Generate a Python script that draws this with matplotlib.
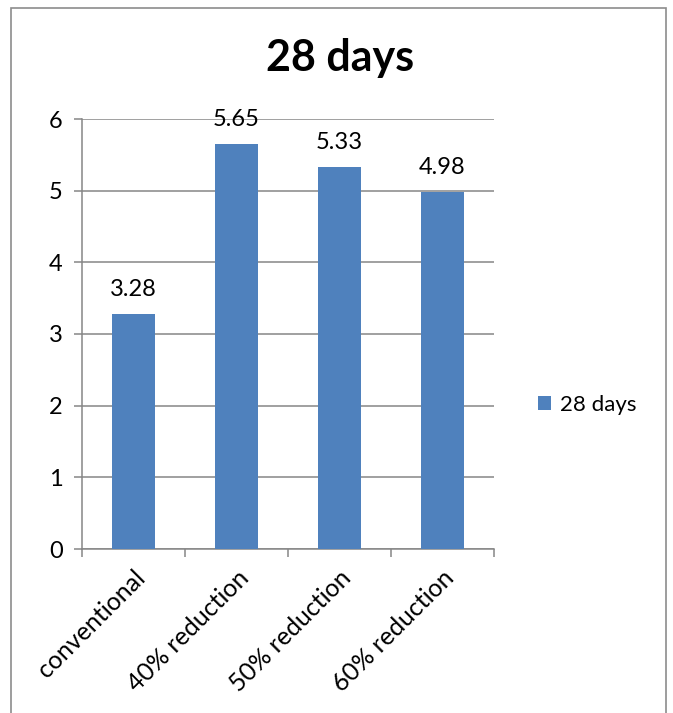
import matplotlib

matplotlib.use("Agg")
import matplotlib.pyplot as plt
from matplotlib.patches import Rectangle

categories = ["conventional", "40% reduction", "50% reduction", "60% reduction"]
values = [3.28, 5.65, 5.33, 4.98]
series_name = "28 days"
y_ticks = [0, 1, 2, 3, 4, 5, 6]

bar_color = "#4F81BD"
grid_color = "#868686"
font = ["Lato", "DejaVu Sans"]

plt.rcParams["font.family"] = font

fig = plt.figure(figsize=(6.73, 7.13), dpi=100)

# chart-area frame (bottom edge runs past the canvas)
fig.patches.append(Rectangle((11 / 673, -0.05), 655 / 673, 1 - 8 / 713 + 0.05,
                             transform=fig.transFigure, fill=False,
                             edgecolor="#8C8C8C", linewidth=1.2))

ax = fig.add_axes([82 / 673, 1 - 549 / 713, 412 / 673, 430 / 713])
x = list(range(len(categories)))
bars = ax.bar(x, values, width=0.42, color=bar_color, zorder=3, label=series_name)

for xi, v in zip(x, values):
    ax.annotate(f"{v:.2f}", (xi, v), xytext=(0, 10), textcoords="offset points",
                ha="center", va="bottom", fontsize=17, color="black")

ax.set_xlim(-0.5, len(categories) - 0.5)
ax.set_ylim(0, 6)
ax.set_yticks(y_ticks)
ax.set_yticklabels([str(t) for t in y_ticks], fontsize=17)
ax.yaxis.grid(True, color=grid_color, linewidth=1.1, zorder=0)
ax.tick_params(axis="y", length=6, color=grid_color, width=1.1, pad=8)

ax.set_xticks(x)
ax.set_xticklabels(categories, rotation=45, ha="right", rotation_mode="anchor",
                   fontsize=18)
ax.tick_params(axis="x", which="major", length=0, pad=12)
ax.set_xticks([i - 0.5 for i in range(len(categories) + 1)], minor=True)
ax.tick_params(axis="x", which="minor", length=6, color=grid_color, width=1.1)

for side in ["top", "right"]:
    ax.spines[side].set_visible(False)
for side in ["left", "bottom"]:
    ax.spines[side].set_color(grid_color)
    ax.spines[side].set_linewidth(1.1)

fig.text(340 / 673, 1 - 58 / 713, series_name, ha="center", va="center",
         fontsize=31, fontweight="bold")

fig.legend(handles=[bars], labels=[series_name], loc="center left",
           bbox_to_anchor=(518 / 673, 1 - 405 / 713), frameon=False,
           fontsize=16, handlelength=0.6, handleheight=0.6, handletextpad=0.4)

fig.savefig("out.png", dpi=100)
